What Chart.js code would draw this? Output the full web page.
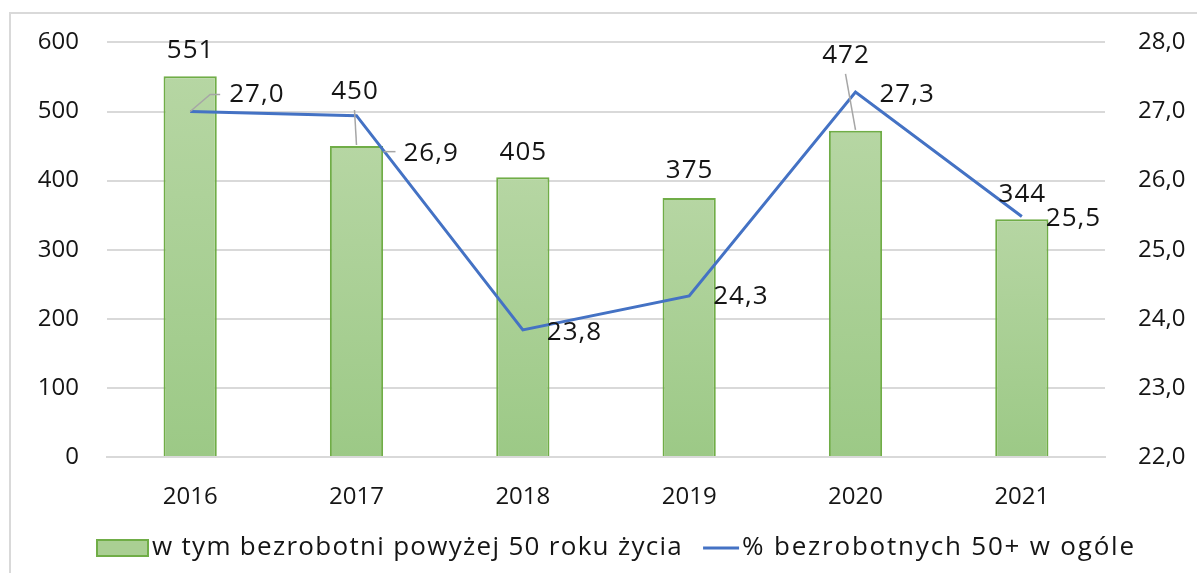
<!DOCTYPE html>
<html>
<head>
<meta charset="utf-8">
<script src="https://cdn.jsdelivr.net/npm/chart.js@4/dist/chart.umd.min.js"></script>
<style>
  html, body { margin: 0; padding: 0; background: #fff; }
  #wrap { width: 1197px; height: 573px; position: relative; }
</style>
</head>
<body>
<div id="wrap"><canvas id="chart"></canvas></div>
<script>
const years = ["2016", "2017", "2018", "2019", "2020", "2021"];
const unemployed50 = [551, 450, 405, 375, 472, 344];
const share50 = [27.0, 26.94, 23.84, 24.33, 27.28, 25.48];
const leftTicks = [0, 100, 200, 300, 400, 500, 600];
const rightTicks = [22, 23, 24, 25, 26, 27, 28];

const barName = "w tym bezrobotni powyżej 50 roku życia";
const lineName = "% bezrobotnych 50+ w ogóle";

const FONT = "'Open Sans', sans-serif";
const TEXT = "#151515";
const fmt = v => v.toFixed(1).replace(".", ",");

// label placement (px), tuned by eye against the reference
const barLabelShift = [[0, -26], [-2, -54], [0, -25], [0, -27], [-10, -75], [0, -25]];
const barLeader = [false, true, false, false, true, false];
const lineLabelShift = [[39, -17], [47, 38], [24, 3], [24, 1], [24, 2], [24, 2]];

function barGradient(c) {
  const chart = c.chart;
  if (!chart.chartArea) return "#a9d18e";
  const y = chart.scales.y;
  const top = y.getPixelForValue(unemployed50[c.dataIndex]);
  const bottom = y.getPixelForValue(0);
  const g = chart.ctx.createLinearGradient(0, top, 0, bottom);
  g.addColorStop(0, "#b6d6a3");
  g.addColorStop(1, "#9cc986");
  return g;
}

const frame = {
  id: "frame",
  beforeDraw(chart) {
    const ctx = chart.ctx;
    ctx.save();
    ctx.strokeStyle = "#d9d9d9";
    ctx.lineWidth = 2;
    ctx.beginPath();
    ctx.moveTo(10, 573);
    ctx.lineTo(10, 13);
    ctx.lineTo(1197, 13);
    ctx.stroke();
    ctx.restore();
  }
};

const labels = {
  id: "labels",
  afterDatasetsDraw(chart) {
    const ctx = chart.ctx;
    const bars = chart.getDatasetMeta(0).data;
    const pts = chart.getDatasetMeta(1).data;
    ctx.save();
    ctx.font = "26px " + FONT;
    ctx.letterSpacing = "1px";
    ctx.fillStyle = TEXT;
    ctx.strokeStyle = "#a6a6a6";
    ctx.lineWidth = 1.5;

    bars.forEach((b, i) => {
      const [dx, dy] = barLabelShift[i];
      const lx = b.x + dx, ly = b.y + dy;
      if (barLeader[i]) {
        ctx.beginPath();
        ctx.moveTo(b.x, b.y - 1);
        ctx.lineTo(lx, ly + 18);
        ctx.stroke();
      }
      ctx.textAlign = "center";
      ctx.textBaseline = "middle";
      ctx.fillText(String(unemployed50[i]), lx + 0.5, ly);
    });

    pts.forEach((p, i) => {
      const [dx, dy] = lineLabelShift[i];
      const lx = p.x + dx, ly = p.y + dy;
      if (i === 0) {
        ctx.beginPath();
        ctx.moveTo(p.x, p.y);
        ctx.lineTo(p.x + 20, ly);
        ctx.lineTo(p.x + 30, ly);
        ctx.stroke();
      } else if (i === 1) {
        // the slanted part runs under the blue line, only the tail shows
        ctx.beginPath();
        ctx.moveTo(p.x + 27, ly - 2);
        ctx.lineTo(p.x + 39, ly - 2);
        ctx.stroke();
      }
      ctx.textAlign = "left";
      ctx.textBaseline = "middle";
      ctx.fillText(fmt(share50[i]), lx, ly);
    });
    ctx.restore();
  }
};

const legendBox = {
  id: "legendBox",
  afterDraw(chart) {
    const ctx = chart.ctx;
    const y = 548;
    ctx.save();
    ctx.font = "26px " + FONT;
    ctx.letterSpacing = "1.3px";
    ctx.fillStyle = "#aacf93";
    ctx.fillRect(97, y - 8, 51, 16);
    ctx.strokeStyle = "#70ad47";
    ctx.lineWidth = 2;
    ctx.strokeRect(97, y - 8, 51, 16);
    ctx.fillStyle = TEXT;
    ctx.textAlign = "left";
    ctx.textBaseline = "middle";
    ctx.fillText(barName, 152, y);
    const x2 = 152 + ctx.measureText(barName).width + 20;
    ctx.strokeStyle = "#4472c4";
    ctx.lineWidth = 3;
    ctx.beginPath();
    ctx.moveTo(x2, y);
    ctx.lineTo(x2 + 36, y);
    ctx.stroke();
    ctx.letterSpacing = "1.8px";
    ctx.fillText(lineName, x2 + 39, y);
    ctx.restore();
  }
};

new Chart(document.getElementById("chart"), {
  data: {
    labels: years,
    datasets: [
      {
        type: "bar",
        label: barName,
        data: unemployed50,
        yAxisID: "y",
        backgroundColor: barGradient,
        borderColor: "#70ad47",
        borderWidth: 2,
        barPercentage: 0.64,
        categoryPercentage: 0.5,
        order: 2
      },
      {
        type: "line",
        label: lineName,
        data: share50,
        yAxisID: "y2",
        borderColor: "#4472c4",
        borderWidth: 3,
        pointRadius: 0,
        tension: 0,
        order: 1
      }
    ]
  },
  options: {
    responsive: true,
    maintainAspectRatio: false,
    animation: false,
    layout: { padding: { top: 30, left: 0, right: 0, bottom: 0 } },
    plugins: {
      legend: { display: false },
      tooltip: { enabled: false }
    },
    scales: {
      x: {
        grid: { display: false },
        border: { color: "#d9d9d9", width: 2 },
        ticks: { color: TEXT, font: { family: FONT, size: 24 }, padding: 18 },
        afterFit(s) { s.height = 116; }
      },
      y: {
        position: "left",
        min: 0, max: 600,
        afterBuildTicks(s) { s.ticks = leftTicks.map(v => ({ value: v })); },
        grid: { color: "#d9d9d9", lineWidth: 2, drawTicks: false },
        border: { display: false },
        ticks: { color: TEXT, font: { family: FONT, size: 24 }, padding: 28 },
        afterFit(s) { s.width = 107; }
      },
      y2: {
        position: "right",
        min: 22, max: 28,
        afterBuildTicks(s) { s.ticks = rightTicks.map(v => ({ value: v })); },
        grid: { drawOnChartArea: false, drawTicks: true, tickLength: 5, tickColor: "rgba(0,0,0,0)" },
        border: { display: false },
        ticks: { color: TEXT, font: { family: FONT, size: 24 }, padding: 28, callback: v => fmt(v) },
        afterFit(s) { s.width = 92; }
      }
    }
  },
  plugins: [frame, labels, legendBox]
});
</script>
</body>
</html>
